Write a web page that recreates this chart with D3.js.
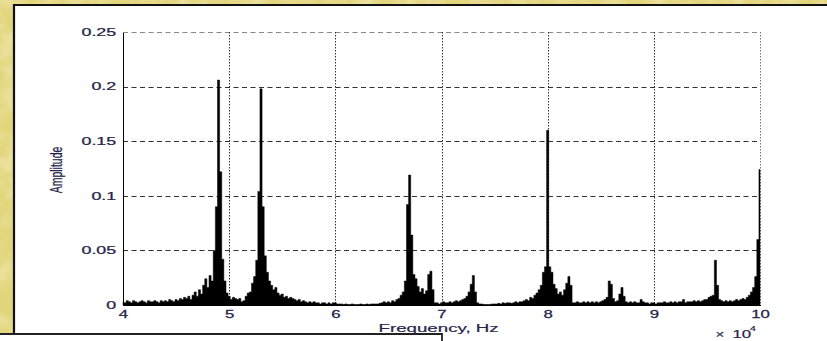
<!DOCTYPE html>
<html lang="en">
<head>
<meta charset="UTF-8">
<title>Amplitude spectrum</title>
<script src="https://d3js.org/d3.v7.min.js"></script>
<style>
  body { margin: 0; overflow: hidden; background: #fff; }
  svg { display: block; font-family: "Liberation Sans", Arial, sans-serif; }
</style>
</head>
<body>
<svg width="827" height="341"></svg>
<script>
// amplitude, one value per 200 Hz bin
const amp40k = [
  0.003, 0.002, 0.004, 0.003, 0.002, 0.004, 0.003, 0.002, 0.003, 0.004,
  0.003, 0.002, 0.004, 0.003, 0.003, 0.004, 0.003, 0.002, 0.004, 0.003,
  0.004, 0.003, 0.005, 0.004, 0.003, 0.005, 0.004, 0.006, 0.005, 0.007,
  0.006, 0.008, 0.005, 0.009, 0.012, 0.008, 0.014, 0.010, 0.018, 0.024,
  0.016, 0.027, 0.022, 0.050, 0.090, 0.206, 0.122, 0.042, 0.022, 0.011
];
const amp50k = [
  0.008, 0.005, 0.007, 0.006, 0.005, 0.006, 0.003, 0.004, 0.008, 0.011,
  0.012, 0.020, 0.026, 0.041, 0.104, 0.198, 0.090, 0.045, 0.030, 0.022,
  0.018, 0.014, 0.016, 0.011, 0.009, 0.010, 0.007, 0.008, 0.006, 0.007,
  0.006, 0.005, 0.004, 0.005, 0.003, 0.004, 0.003, 0.002, 0.003, 0.002,
  0.003, 0.002, 0.002, 0.001, 0.002, 0.002, 0.001, 0.002, 0.001, 0.002
];
const amp60k = [
  0.002, 0.001, 0.001, 0.001, 0.0005, 0.001, 0.0005, 0.0005, 0.001, 0.0005,
  0.0005, 0.0005, 0.001, 0.0005, 0.0005, 0.001, 0.0005, 0.001, 0.001, 0.001,
  0.001, 0.0015, 0.002, 0.003, 0.002, 0.003, 0.002, 0.004, 0.003, 0.005,
  0.006, 0.009, 0.012, 0.022, 0.092, 0.119, 0.064, 0.028, 0.024, 0.017,
  0.012, 0.015, 0.010, 0.013, 0.028, 0.031, 0.014, 0.002, 0.002, 0.001
];
const amp70k = [
  0.002, 0.003, 0.002, 0.002, 0.003, 0.002, 0.003, 0.004, 0.003, 0.004,
  0.005, 0.006, 0.008, 0.012, 0.019, 0.027, 0.012, 0.002, 0.001, 0.001,
  0.0005, 0.0005, 0.0005, 0.0005, 0.001, 0.001, 0.001, 0.0015, 0.001, 0.002,
  0.0015, 0.002, 0.002, 0.0015, 0.002, 0.003, 0.002, 0.003, 0.003, 0.004,
  0.005, 0.004, 0.007, 0.006, 0.009, 0.011, 0.014, 0.018, 0.030, 0.035
];
const amp80k = [
  0.160, 0.035, 0.030, 0.019, 0.015, 0.010, 0.012, 0.009, 0.014, 0.020,
  0.026, 0.018, 0.002, 0.002, 0.003, 0.002, 0.002, 0.003, 0.002, 0.003,
  0.002, 0.003, 0.002, 0.003, 0.002, 0.003, 0.004, 0.005, 0.007, 0.022,
  0.019, 0.006, 0.003, 0.004, 0.010, 0.016, 0.008, 0.003, 0.002, 0.003,
  0.002, 0.003, 0.002, 0.002, 0.005, 0.003, 0.002, 0.002, 0.001, 0.002
];
const amp90k = [
  0.002, 0.001, 0.002, 0.002, 0.002, 0.003, 0.002, 0.002, 0.003, 0.002,
  0.003, 0.002, 0.003, 0.003, 0.005, 0.002, 0.003, 0.003, 0.003, 0.004,
  0.003, 0.004, 0.003, 0.004, 0.005, 0.005, 0.007, 0.008, 0.009, 0.041,
  0.018, 0.005, 0.004, 0.003, 0.004, 0.003, 0.004, 0.003, 0.004, 0.005,
  0.004, 0.005, 0.006, 0.005, 0.007, 0.009, 0.012, 0.016, 0.026, 0.060,
  0.124
];

const yTicks = [0, 0.05, 0.1, 0.15, 0.2, 0.25];
const xTicks = [4, 5, 6, 7, 8, 9, 10];   // in units of 10^4 Hz
const xLabel = "Frequency, Hz";
const yLabel = "Amplitude";

const amps = [].concat(amp40k, amp50k, amp60k, amp70k, amp80k, amp90k);
const freqs = amps.map((d, i) => 40000 + i * 200);

const svg = d3.select("svg");
const textColor = "#26264a";

// --- background: yellow textured frame + white panel
const defs = svg.append("defs");
const grain = defs.append("filter").attr("id", "grain")
    .attr("x", 0).attr("y", 0).attr("width", "100%").attr("height", "100%");
grain.append("feTurbulence")
    .attr("type", "fractalNoise").attr("baseFrequency", 0.045)
    .attr("numOctaves", 3).attr("seed", 7);
grain.append("feColorMatrix").attr("type", "matrix")
    .attr("values", "0 0 0 0 1  0 0 0 0 0.98  0 0 0 0 0.8  1.6 0 0 0 -0.65");

svg.append("rect").attr("width", 827).attr("height", 341).attr("fill", "#e2d57c");
svg.append("rect").attr("width", 827).attr("height", 341)
    .attr("filter", "url(#grain)").attr("opacity", 0.55);

svg.append("rect").attr("x", 14).attr("y", 5).attr("width", 813).attr("height", 336).attr("fill", "#fff");
svg.append("rect").attr("x", 0).attr("y", 334).attr("width", 442).attr("height", 7).attr("fill", "#fff");

svg.append("path")
    .attr("d", "M827,5H14V334")
    .attr("fill", "none").attr("stroke", "#111").attr("stroke-width", 2.2);
svg.append("path")
    .attr("d", "M0,334H442V341")
    .attr("fill", "none").attr("stroke", "#222").attr("stroke-width", 1.8);

// --- scales
const x = d3.scaleLinear().domain([40000, 100000]).range([123, 760]);
const y = d3.scaleLinear().domain([0, 0.25]).range([305, 32]);

// --- grid
svg.append("g").selectAll("line")
    .data(yTicks.filter(d => d > 0))
    .join("line")
    .attr("x1", x(40000)).attr("x2", x(100000))
    .attr("y1", d => Math.round(y(d)) + 0.5).attr("y2", d => Math.round(y(d)) + 0.5)
    .attr("stroke", d => d === 0.25 ? "#888" : "#333")
    .attr("stroke-dasharray", "5,3.5");

svg.append("g").selectAll("line")
    .data(xTicks.filter(d => d > 4))
    .join("line")
    .attr("x1", d => Math.round(x(d * 1e4)) + 0.5).attr("x2", d => Math.round(x(d * 1e4)) + 0.5)
    .attr("y1", y(0.25)).attr("y2", y(0))
    .attr("stroke", d => d === 10 ? "#777" : "#333")
    .attr("stroke-dasharray", "1.5,1.5");

// --- spectrum
const area = d3.area()
    .x((d, i) => x(freqs[i]))
    .y0(y(0))
    .y1(d => y(d))
    .curve(d3.curveStep);

svg.append("path")
    .datum(amps)
    .attr("d", area)
    .attr("fill", "#000")
    .attr("stroke", "#000")
    .attr("stroke-width", 0.5);

// --- axes
const yAxis = svg.append("g")
    .attr("transform", `translate(${x(40000)},0)`)
    .call(d3.axisLeft(y).tickValues(yTicks).tickSize(0).tickPadding(4)
        .tickFormat(d3.format("~g")));

const xAxis = svg.append("g")
    .attr("transform", `translate(0,${y(0)})`)
    .call(d3.axisBottom(x).tickValues(xTicks.map(d => d * 1e4)).tickSize(0).tickPadding(6)
        .tickFormat(d => d / 1e4));

[yAxis, xAxis].forEach(g => {
    g.attr("font-family", null).attr("font-size", null);
    g.select(".domain").attr("stroke", "#000").attr("stroke-width", 1.2)
        .attr("shape-rendering", "crispEdges");
    g.selectAll(".tick text").attr("fill", textColor).attr("font-size", 10.5)
        .attr("stroke", textColor).attr("stroke-width", 0.25);
});
yAxis.selectAll(".tick text").attr("transform", "scale(1.7,1)");
xAxis.selectAll(".tick text").attr("transform", "scale(1.6,1)");

// --- labels
function label(txt, px, py, size, sx, anchor, rot) {
    return svg.append("text")
        .attr("transform", `translate(${px},${py}) scale(${sx},1)` + (rot ? ` rotate(${rot})` : ""))
        .attr("text-anchor", anchor)
        .attr("font-size", size)
        .attr("fill", textColor)
        .attr("stroke", textColor)
        .attr("stroke-width", 0.2)
        .text(txt);
}

label(xLabel, 438.6, 331.7, 11, 1.7, "middle");
label(yLabel, 61.6, 170, 10.5, 1.55, "middle", -90);
label("\u00d7", 715.5, 337.7, 10, 1.5, "start");
label("10", 732.5, 337.7, 10.5, 1.6, "start");
label("4", 750, 331, 7, 1.5, "start");
</script>
</body>
</html>
